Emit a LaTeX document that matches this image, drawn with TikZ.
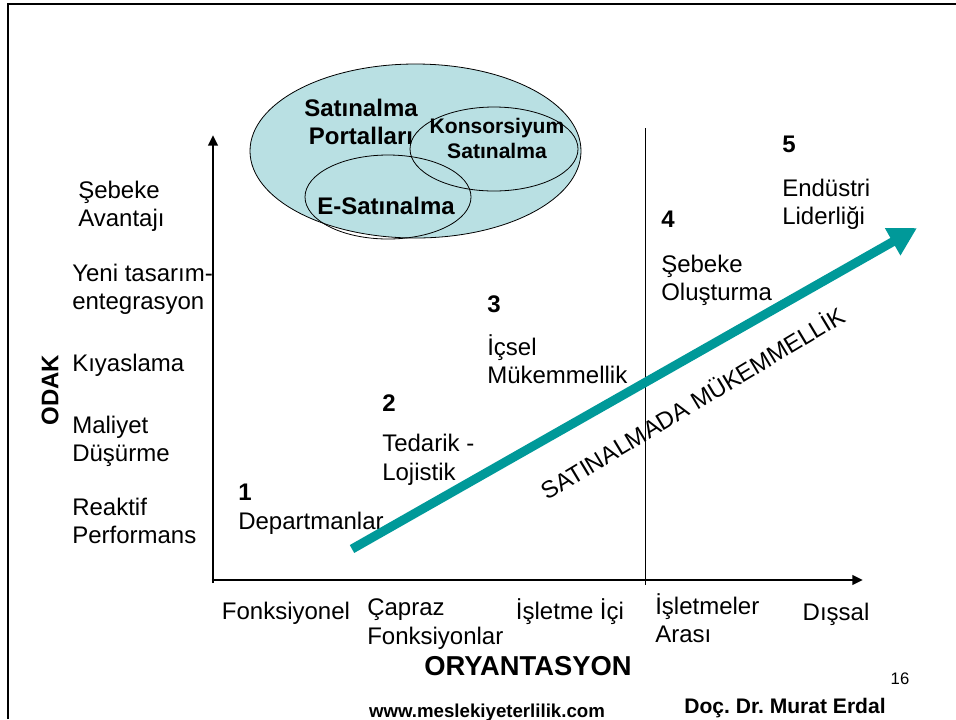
\documentclass[tikz,border=0pt]{standalone}
\usepackage{fontspec}
\setmainfont{Liberation Sans}
\usetikzlibrary{arrows.meta}
\definecolor{ellfill}{RGB}{185,224,227}
\definecolor{tealarrow}{RGB}{0,153,153}
\frenchspacing
\begin{document}
\begin{tikzpicture}[x=0.75pt,y=-0.75pt,
  lbl/.style={anchor=base west,inner sep=0,font=\fontsize{18}{21}\selectfont},
  num/.style={anchor=base west,inner sep=0,font=\fontsize{18}{21}\selectfont\bfseries},
  ctr/.style={anchor=base,inner sep=0,font=\fontsize{18}{21}\selectfont},
  ellt/.style={anchor=base,inner sep=0,font=\fontsize{18}{21}\selectfont\bfseries},
  axis/.style={line width=2.2pt,-{Triangle[length=8pt,width=7pt]}}]
\useasboundingbox (0,0) rectangle (956,719);
% frame
\draw[line width=2pt] (8,719) -- (8,4) -- (956,4);
% ellipses
\draw[fill=ellfill,line width=0.6pt] (415.5,151) ellipse [x radius=165.5, y radius=87];
\draw[line width=0.6pt] (494,149) ellipse [x radius=84, y radius=42];
\draw[line width=0.6pt] (388,197) ellipse [x radius=83, y radius=42];
\node[ellt] (sp1) at (361,116) {Satınalma};
\node[ellt] (sp2) at (361,144) {Portalları};
\node[ellt,font=\fontsize{15.8}{18}\selectfont\bfseries] (ks1) at (497,133) {Konsorsiyum};
\node[ellt,font=\fontsize{15.8}{18}\selectfont\bfseries] (ks2) at (497,158) {Satınalma};
\node[ellt] (es) at (386,214) {E-Satınalma};
% axes
\coordinate (ytop) at (213,135);
\coordinate (xend) at (863,580);
\draw[axis] (213,583) -- (ytop);
\draw[axis] (211.5,580) -- (xend);
\draw[line width=0.5pt] (645,128) -- (645,585);
% left labels
\node[lbl] (l1a) at (78,198) {Şebeke};
\node[lbl] (l1b) at (78,226) {Avantajı};
\node[lbl] (l2a) at (72,281) {Yeni tasarım-};
\node[lbl] (l2b) at (72,309) {entegrasyon};
\node[lbl] (l3) at (72,371) {Kıyaslama};
\node[lbl] (l4a) at (72,433) {Maliyet};
\node[lbl] (l4b) at (72,461) {Düşürme};
\node[lbl] (l5a) at (72,515) {Reaktif};
\node[lbl] (l5b) at (72,543) {Performans};
\node[anchor=center,inner sep=0,rotate=90,font=\fontsize{18}{21}\selectfont\bfseries] (odak) at (50,390) {ODAK};
% stages
\node[num] (n1) at (238,500) {1};
\node[lbl] (s1) at (238,529) {Departmanlar};
\node[num] (n2) at (382,411) {2};
\node[lbl] (s2a) at (382,451) {Tedarik -};
\node[lbl] (s2b) at (382,480) {Lojistik};
\node[num] (n3) at (487,312) {3};
\node[lbl] (s3a) at (487,355) {İçsel};
\node[lbl] (s3b) at (487,383) {Mükemmellik};
\node[num] (n4) at (661,227) {4};
\node[lbl] (s4a) at (661,272) {Şebeke};
\node[lbl] (s4b) at (661,300) {Oluşturma};
\node[num] (n5) at (782,152) {5};
\node[lbl] (s5a) at (782,196) {Endüstri};
\node[lbl] (s5b) at (782,224) {Liderliği};
% x labels
\node[ctr] (x1) at (286,619) {Fonksiyonel};
\node[lbl] (x2a) at (367,615) {Çapraz};
\node[lbl] (x2b) at (367,644) {Fonksiyonlar};
\node[ctr] (x3) at (570,619) {İşletme İçi};
\node[lbl] (x4a) at (655,614) {İşletmeler};
\node[lbl] (x4b) at (655,642) {Arası};
\node[ctr] (x5) at (836,620) {Dışsal};
\node[ellt,font=\fontsize{20.5}{24}\selectfont\bfseries] (ory) at (528,675) {ORYANTASYON};
% big arrow
\coordinate (aS) at (352,549);
\coordinate (aE) at (917,228);
\draw[tealarrow,line width=6.8pt,-{Triangle[length=21pt,width=22pt]}] (aS) -- (aE);
\node[inner sep=0,rotate=31,font=\fontsize{18}{21}\selectfont] (sm) at (692,402) {SATINALMADA MÜKEMMELLİK};
% footer
\node[anchor=base,inner sep=0,font=\fontsize{12.5}{15}\selectfont] (pg) at (900,684) {16};
\node[anchor=base,inner sep=0,font=\fontsize{14}{16}\selectfont\bfseries] (www) at (487,717) {www.meslekiyeterlilik.com};
\node[anchor=base,inner sep=0,font=\fontsize{15.8}{18}\selectfont\bfseries] (doc) at (785,713) {Doç. Dr. Murat Erdal};
\end{tikzpicture}
\end{document}
